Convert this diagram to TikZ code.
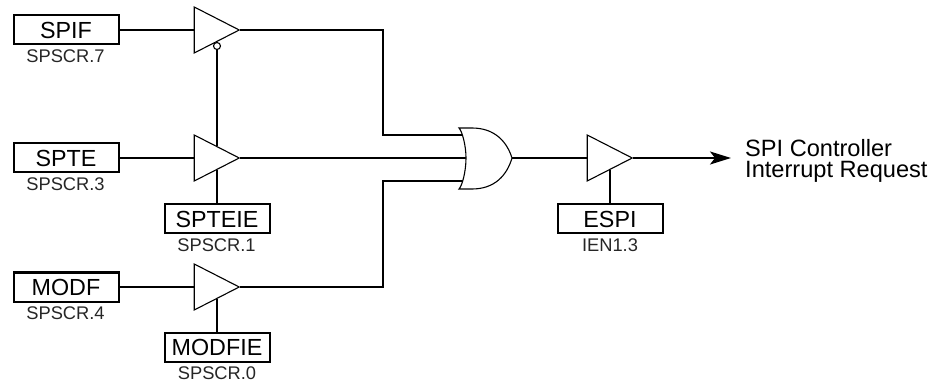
\documentclass[tikz,border=0pt]{standalone}
\usepackage{fontspec}
\setmainfont{Liberation Sans}
\usetikzlibrary{shapes.geometric,arrows.meta}
\newcommand{\bigfont}{\fontsize{23.3pt}{24pt}\selectfont}
\newcommand{\smallfont}{\fontsize{18.3pt}{19pt}\selectfont}
\tikzset{
  x=1pt,y=-1pt,
  regbox/.style={draw=black,line width=2pt,fill=white,minimum width=105pt,minimum height=29pt,inner sep=0pt,font=\bigfont},
  sublabel/.style={inner sep=0pt,font=\smallfont,text=black!85},
  wire/.style={draw=black,line width=2pt},
  buffer/.style={isosceles triangle,isosceles triangle apex angle=90,isosceles triangle stretches,draw=black,line width=1.1pt,fill=white,minimum width=46pt,minimum height=45pt,inner sep=0pt,shape border rotate=0},
  bubble/.style={circle,draw=black,line width=1.1pt,fill=white,minimum size=7pt,inner sep=0pt},
  orgate/.style={draw=black,line width=1.1pt,fill=white},
}
\begin{document}
\begin{tikzpicture}
\useasboundingbox (0,0) rectangle (948,382);
% registers
\node[regbox] (spif) at (66,30) {SPIF};
\node[regbox] (spte) at (66,158) {SPTE};
\node[regbox] (modf) at (66,287) {MODF};
\node[regbox] (spteie) at (217,219) {SPTEIE};
\node[regbox] (modfie) at (217,347) {MODFIE};
\node[regbox] (espi) at (610,219) {ESPI};
% register labels
\node[sublabel] (l1) at (65.5,56) {SPSCR.7};
\node[sublabel] (l2) at (65.5,184) {SPSCR.3};
\node[sublabel] (l3) at (65.5,313) {SPSCR.4};
\node[sublabel] (l4) at (216.5,245) {SPSCR.1};
\node[sublabel] (l5) at (217,373) {SPSCR.0};
\node[sublabel] (l6) at (610,245) {IEN1.3};
% buffers
\node[buffer,anchor=apex] (b1) at (240,30) {};
\node[buffer,anchor=apex] (b2) at (240,158) {};
\node[buffer,anchor=apex] (b3) at (240,287) {};
\node[buffer,anchor=apex] (b4) at (633,158) {};
\node[bubble] (bub) at (217,46) {};
% OR gate
\coordinate (in1) at (464,135);
\coordinate (in2) at (467,158);
\coordinate (in3) at (464,181);
\coordinate (orout) at (512,158);
\coordinate (jog1) at (383,135);
\coordinate (jog3) at (383,181);
% wires
\draw[wire] (spif) -- (b1.lower side |- spif);
\draw[wire] (spte) -- (b2.lower side |- spte);
\draw[wire] (modf) -- (b3.lower side |- modf);
\draw[wire] (b1.apex) -| (jog1) -- (in1);
\draw[wire] (b2.apex) -- (in2);
\draw[wire] (b3.apex) -| (jog3) -- (in3);
\draw[wire] (bub.south) -- (bub.south |- b2.left side);
\draw[wire] (spteie.north) -- (spteie.north |- b2.right side);
\draw[wire] (modfie.north) -- (modfie.north |- b3.right side);
\draw[wire] (espi.north) -- (espi.north |- b4.right side);
\draw[wire] (orout) -- (b4.lower side |- orout);
\node[inner sep=0pt,anchor=west,align=left,font=\fontsize{23.6pt}{24pt}\selectfont] (out) at (745,160.5) {SPI Controller\\[-3pt]Interrupt Request};
\coordinate (outend) at (731,158);
\draw[wire,-{Stealth[length=21pt,width=13pt,inset=5pt]}] (b4.apex) -- (outend);
\path[orgate] (459,128) .. controls (462,131) and (466,145) .. (466,158)
  .. controls (466,172) and (462,186) .. (459,189)
  -- (472,189) .. controls (495,189) and (507,175) .. (orout)
  .. controls (507,142) and (495,128) .. (472,128) -- cycle;
\end{tikzpicture}
\end{document}
